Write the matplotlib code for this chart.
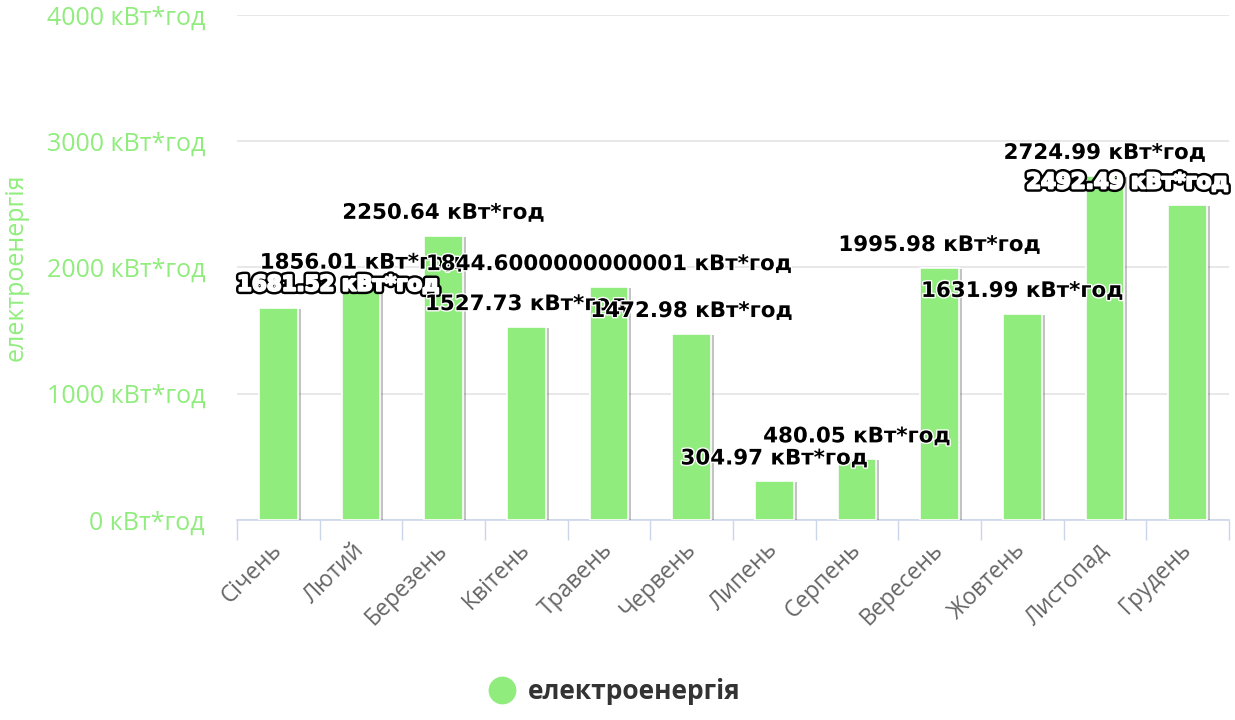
import matplotlib
matplotlib.use('Agg')
import matplotlib.pyplot as plt
import matplotlib.patheffects as pe
from matplotlib.lines import Line2D
import numpy as np

# Chart data
months = ['Січень', 'Лютий', 'Березень', 'Квітень', 'Травень', 'Червень',
          'Липень', 'Серпень', 'Вересень', 'Жовтень', 'Листопад', 'Грудень']
energy = [1681.52, 1856.01, 2250.64, 1527.73, 1844.6000000000001, 1472.98,
          304.97, 480.05, 1995.98, 1631.99, 2724.99, 2492.49]
y_ticks = [0, 1000, 2000, 3000, 4000]
unit = 'кВт*год'
series_name = 'електроенергія'

bar_color = '#90ed7d'
label_font = 'Open Sans'

fig = plt.figure(figsize=(12.35, 7.2), dpi=100)
ax = fig.add_axes([0.1919, 0.2778, 0.8032, 0.7014])

x = np.arange(len(months))
bars = ax.bar(x, energy, width=0.47, color=bar_color, edgecolor='white',
              linewidth=1.2, zorder=3)
for b in bars:
    b.set_path_effects([pe.SimplePatchShadow(offset=(2.2, -0.6), shadow_rgbFace='#555555', alpha=0.35),
                        pe.Normal()])

ax.set_xlim(-0.5, len(months) - 0.5)
ax.set_ylim(0, 4000)

# Y axis
ax.set_yticks(y_ticks)
ax.set_yticklabels([f'{t} {unit}' for t in y_ticks], color=bar_color,
                   fontsize=18, family=label_font)
ax.tick_params(axis='y', length=0, pad=23)
ax.yaxis.grid(True, color='#e6e6e6', linewidth=1.3, zorder=0)
ax.set_ylabel(series_name, color=bar_color, fontsize=18, family=label_font)
ax.yaxis.set_label_coords(-0.2228, 0.5)
ax.yaxis.label.set_va('center')

# X axis
ax.set_xticks(x)
ax.set_xticklabels(months, rotation=45, ha='right', va='center',
                   rotation_mode='anchor', color='#666666', fontsize=16.5, family=label_font)
ax.tick_params(axis='x', which='major', length=0, pad=19)
ax.set_xticks(np.arange(-0.5, len(months)), minor=True)
ax.tick_params(axis='x', which='minor', length=14.5, width=1, color='#ccd6eb')

for side in ['top', 'right', 'left']:
    ax.spines[side].set_visible(False)
ax.spines['bottom'].set_color('#ccd6eb')
ax.spines['bottom'].set_linewidth(1.2)

# Data labels
texts = []
for xi, v in zip(x, energy):
    t = ax.annotate(f'{v} {unit}', (xi, v), xytext=(0, 23), textcoords='offset pixels',
                    ha='center', va='center', fontsize=15.4, fontweight='bold',
                    color='black', zorder=5)
    texts.append(t)

fig.canvas.draw()
renderer = fig.canvas.get_renderer()
ax_box = ax.get_window_extent(renderer)
for t in texts:
    bb = t.get_window_extent(renderer)
    shift = 0
    if bb.x0 < ax_box.x0:
        shift = ax_box.x0 - bb.x0
    elif bb.x1 > ax_box.x1:
        shift = ax_box.x1 - bb.x1
    if shift:
        ox, oy = t.xyann
        t.xyann = (ox + shift, oy)
        t.set_color('white')
        t.set_path_effects([pe.Stroke(linewidth=5, foreground='black'),
                            pe.Stroke(linewidth=1.5, foreground='white'), pe.Normal()])
    else:
        t.set_path_effects([pe.Stroke(linewidth=2, foreground='white'), pe.Normal()])

# Legend
handle = Line2D([], [], marker='o', linestyle='none', markersize=19,
                markerfacecolor=bar_color, markeredgecolor=bar_color)
fig.legend([handle], [series_name], loc='center', bbox_to_anchor=(0.4976, 0.039),
           frameon=False, prop={'family': label_font, 'weight': 'bold', 'size': 19},
           labelcolor='#333333', handlelength=1.0, handletextpad=0.5)

fig.savefig('out.png', dpi=100)
